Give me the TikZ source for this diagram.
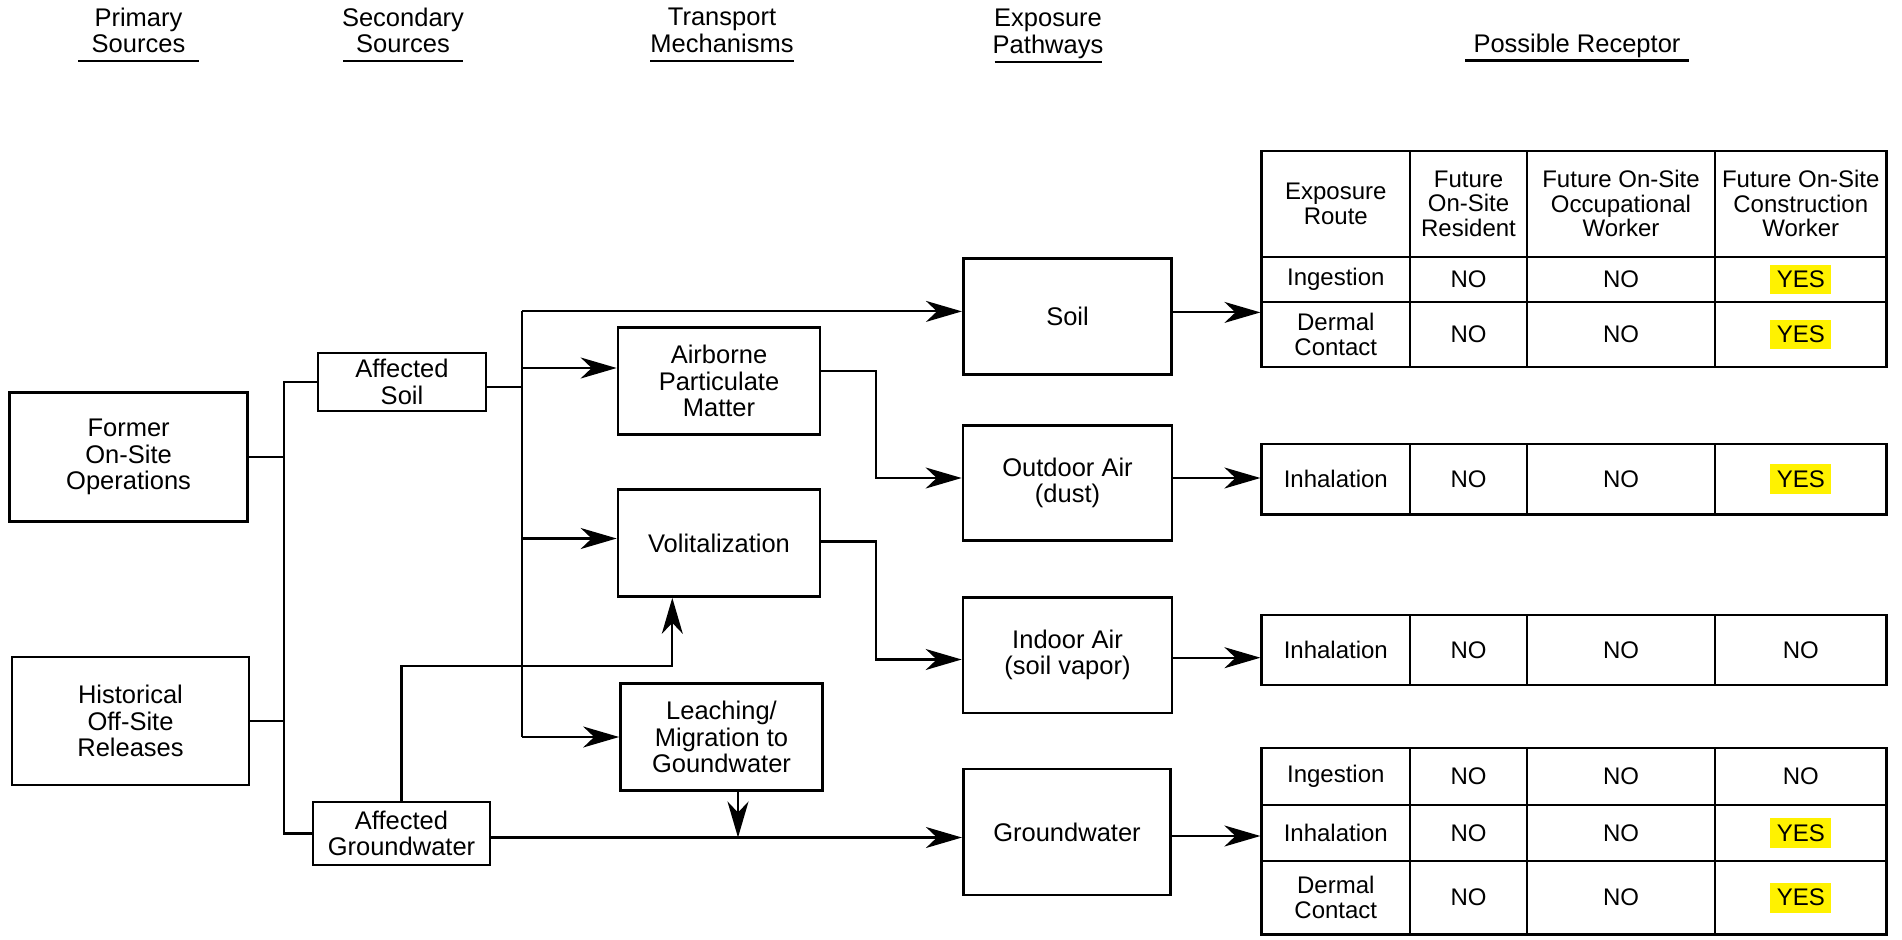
\documentclass[tikz,border=0pt]{standalone}
\usepackage{fontspec}
\setmainfont{Liberation Sans}
\usetikzlibrary{arrows.meta}
\newcommand{\boxfont}{\fontsize{25.5pt}{26.5pt}\selectfont}
\newcommand{\cellfont}{\fontsize{24pt}{24.5pt}\selectfont}
\newcommand{\yesbox}{{\setlength{\fboxsep}{6.5pt}\colorbox{yellow}{YES}}}
\newcommand{\tabrow}[7]{%
  \node[cell, minimum width=148.4pt, minimum height=#3] (#1a) at (1335.8,#2) {#4};
  \node[cell, minimum width=117pt,   minimum height=#3] (#1b) at (1468.5,#2) {#5};
  \node[cell, minimum width=188pt,   minimum height=#3] (#1c) at (1621,#2) {#6};
  \node[cell, minimum width=171.5pt, minimum height=#3] (#1d) at (1800.75,#2) {#7};
}
\begin{document}
\begin{tikzpicture}[x=1pt,y=-1pt,
  box/.style={draw, line width=2.7pt, inner sep=2pt, align=center, font=\boxfont},
  conn/.style={line width=2.1pt},
  arr/.style={conn, -{Stealth[length=36pt,width=21pt,inset=11pt]}},
  hdr/.style={align=center, font=\boxfont, inner sep=0pt},
  cell/.style={draw, line width=2.4pt, inner sep=0pt, align=center, font=\cellfont},
  uline/.style={line width=2.8pt}]
\useasboundingbox (0,0) rectangle (1902,939);

% headers
\node[hdr] (hprim) at (138.5,30.5) {Primary\\Sources};
\node[hdr] (hsec) at (403,30.5) {Secondary\\Sources};
\node[hdr] (htra) at (722,30.5) {Transport\\Mechanisms};
\node[hdr] (hexp) at (1048,34) {Exposure\\Pathways};
\node[hdr] (hrec) at (1577,46) {Possible Receptor};
\draw[uline] (78,61) -- (199,61);
\draw[uline] (343,61) -- (463,61);
\draw[uline] (650,61) -- (793.5,61);
\draw[uline] (994.6,62) -- (1101.8,62);
\draw[uline] (1465,60.3) -- (1688.6,60.3);

% boxes
\node[box, minimum width=238pt, minimum height=129pt] (former) at (128.6,457.3) {Former\\On-Site\\Operations};
\node[box, minimum width=237pt, minimum height=128pt] (hist) at (130.5,721) {Historical\\Off-Site\\Releases};
\node[box, minimum width=168pt, minimum height=58pt] (asoil) at (402,382) {Affected\\Soil};
\node[box, minimum width=177pt, minimum height=63pt] (agw) at (401.5,833.5) {Affected\\Groundwater};
\node[box, minimum width=202pt, minimum height=107pt] (airb) at (719,381) {Airborne\\Particulate\\Matter};
\node[box, minimum width=202pt, minimum height=107pt] (volit) at (719,543) {Volitalization};
\node[box, minimum width=202pt, minimum height=107.6pt] (leach) at (721.5,737) {Leaching/\\Migration to\\Goundwater};
\node[box, minimum width=208.5pt, minimum height=116pt] (soil) at (1067.5,316.4) {Soil};
\node[box, minimum width=209pt, minimum height=115.6pt] (outdoor) at (1067.5,483) {Outdoor Air\\(dust)};
\node[box, minimum width=209pt, minimum height=115.7pt] (indoor) at (1067.5,655) {Indoor Air\\(soil vapor)};
\node[box, minimum width=207.5pt, minimum height=126pt] (gw) at (1067,832) {Groundwater};

% tables
\tabrow{t1h}{203.85}{106.3pt}{Exposure\\Route}{Future\\On-Site\\Resident}{Future On-Site\\Occupational\\Worker}{Future On-Site\\Construction\\Worker}
\tabrow{t1i}{279.5}{45pt}{Ingestion}{NO}{NO}{\yesbox}
\tabrow{t1d}{334.5}{65pt}{Dermal\\Contact}{NO}{NO}{\yesbox}
\tabrow{t2}{479.15}{70.3pt}{Inhalation}{NO}{NO}{\yesbox}
\tabrow{t3}{649.85}{70.3pt}{Inhalation}{NO}{NO}{NO}
\tabrow{t4i}{776.35}{57.3pt}{Ingestion}{NO}{NO}{NO}
\tabrow{t4h}{832.85}{55.7pt}{Inhalation}{NO}{NO}{\yesbox}
\tabrow{t4d}{897.5}{73.6pt}{Dermal\\Contact}{NO}{NO}{\yesbox}

% helper coordinates
\coordinate (tr) at (284,0);
\coordinate (br) at (522.3,0);
\coordinate (mx) at (876,0);
\coordinate (gwup) at (672.3,665.6);
\coordinate (gwl) at ([yshift=-4pt]agw.east);

% connectors
\draw[conn] (former.east) -- (former.east -| tr);
\draw[conn] (hist.east) -- (hist.east -| tr);
\draw[conn] (asoil.west) -- (asoil.west -| tr) |- (agw.west);
\draw[conn] ([yshift=-5pt]asoil.east) -- ([yshift=-5pt]asoil.east -| br);
\draw[conn] ([yshift=5pt]soil.west -| br) -- (leach.west -| br);
\draw[arr] ([yshift=5pt]soil.west -| br) -- ([yshift=5pt]soil.west);
\draw[arr] ([yshift=13pt]airb.west -| br) -- ([yshift=13pt]airb.west);
\draw[arr] ([yshift=4.5pt]volit.west -| br) -- ([yshift=4.5pt]volit.west);
\draw[arr] (leach.west -| br) -- (leach.west);
\draw[arr] ([yshift=10pt]airb.east) -- ([yshift=10pt]airb.east -| mx) |- ([yshift=5pt]outdoor.west);
\draw[arr] ([yshift=1.5pt]volit.east) -- ([yshift=1.5pt]volit.east -| mx) |- ([yshift=-4.5pt]indoor.west);
\draw[arr] (agw.north) |- (gwup) -- (gwup |- volit.south);
\draw[arr] (gwl) -- (gwl -| gw.west);
\draw[arr] ([xshift=16.5pt]leach.south) -- ([xshift=16.5pt]leach.south |- gwl);

\draw[arr] ([yshift=4pt]soil.east) -- ([yshift=4pt]soil.east -| t1ha.west);
\draw[arr] ([yshift=5pt]outdoor.east) -- ([yshift=5pt]outdoor.east -| t2a.west);
\draw[arr] ([yshift=-2.7pt]indoor.east) -- ([yshift=-2.7pt]indoor.east -| t3a.west);
\draw[arr] ([yshift=-4pt]gw.east) -- ([yshift=-4pt]gw.east -| t4ha.west);
\end{tikzpicture}
\end{document}
